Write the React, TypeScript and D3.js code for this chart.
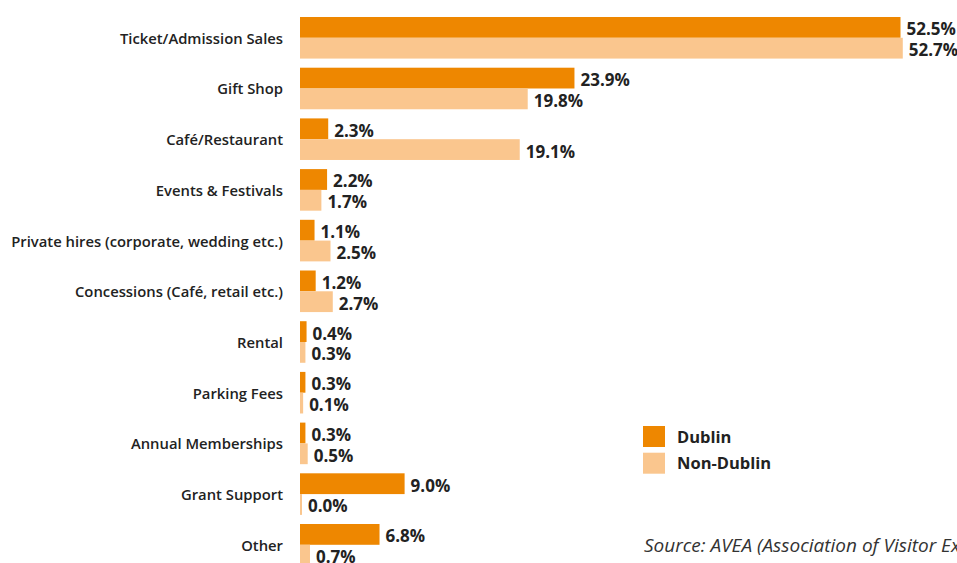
import React from "react";
import * as d3 from "d3";

const categories = [
  "Ticket/Admission Sales",
  "Gift Shop",
  "Café/Restaurant",
  "Events & Festivals",
  "Private hires (corporate, wedding etc.)",
  "Concessions (Café, retail etc.)",
  "Rental",
  "Parking Fees",
  "Annual Memberships",
  "Grant Support",
  "Other",
];
const seriesNames = ["Dublin", "Non-Dublin"];
const dublin = [52.5, 23.9, 2.3, 2.2, 1.1, 1.2, 0.4, 0.3, 0.3, 9.0, 6.8];
const nonDublin = [52.7, 19.8, 19.1, 1.7, 2.5, 2.7, 0.3, 0.1, 0.5, 0.0, 0.7];
const colors = ["#EE8700", "#FAC68E"];
const sourceText = "Source: AVEA (Association of Visitor Experiences & Attractions)";

export default function App() {
  const W = 957;
  const H = 563;
  const x0 = 300;
  const x = d3.scaleLinear().domain([0, 100]).range([x0 + 2, x0 + 2 + 1140]);
  const y = d3
    .scaleBand<string>()
    .domain(categories)
    .range([12.44, 12.44 + 11 * 50.7])
    .paddingInner(0.18)
    .paddingOuter(0.09);
  const ys = d3.scaleBand<string>().domain(seriesNames).range([0, y.bandwidth()]).padding(0);
  const values = [dublin, nonDublin];
  const font = "'Open Sans', 'Noto Sans', sans-serif";

  return (
    <svg
      width={W}
      height={H}
      style={{ position: "absolute", left: 0, top: 0, background: "#fff" }}
      fontFamily={font}
    >
      {categories.map((c, i) => {
        const y0 = y(c)!;
        return (
          <g key={c}>
            <text
              x={283}
              y={y0 + y.bandwidth() / 2}
              textAnchor="end"
              dominantBaseline="central"
              fontSize={14.8}
              fontWeight={600}
              fill="#222"
            >
              {c}
            </text>
            {seriesNames.map((s, si) => {
              const v = values[si][i];
              const end = x(v);
              const by = y0 + ys(s)!;
              return (
                <g key={s}>
                  <rect x={x0} y={by} width={end - x0} height={ys.bandwidth()} fill={colors[si]} />
                  <text
                    x={end + 6}
                    y={by + ys.bandwidth() / 2 + 1.5}
                    dominantBaseline="central"
                    fontSize={17}
                    fontWeight={700}
                    fill="#222"
                  >
                    {v.toFixed(1) + "%"}
                  </text>
                </g>
              );
            })}
          </g>
        );
      })}
      {seriesNames.map((s, si) => (
        <g key={s} transform={`translate(643, ${426 + si * 26.7})`}>
          <rect x={0} y={0} width={22} height={21} fill={colors[si]} />
          <text x={34} y={10} dominantBaseline="central" fontSize={16.5} fontWeight={700} fill="#222">
            {s}
          </text>
        </g>
      ))}
      <text x={644} y={552} fontSize={19} fontStyle="italic" fill="#333">
        {sourceText}
      </text>
    </svg>
  );
}
